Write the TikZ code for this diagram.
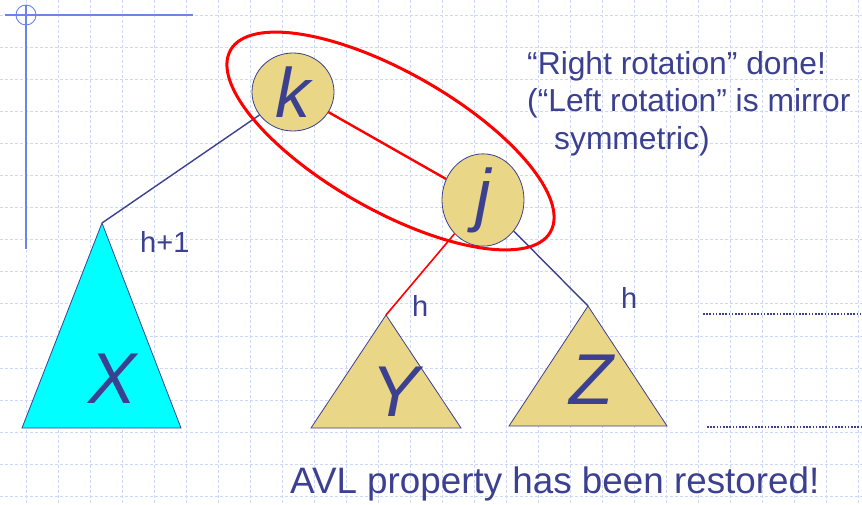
\documentclass[tikz,border=0pt]{standalone}
\usepackage{fontspec}
\setmainfont{Liberation Sans}
\usetikzlibrary{shapes.geometric}
\definecolor{ink}{RGB}{60,64,144}
\definecolor{gold}{RGB}{233,214,134}
\definecolor{gridc}{RGB}{205,216,248}
\definecolor{deco}{RGB}{106,132,232}
\definecolor{aqua}{RGB}{0,255,255}
\tikzset{
  treenode/.style={ellipse, draw=ink, line width=0.8, fill=gold, minimum width=82, minimum height=78, inner sep=0, text=ink, font=\fontsize{70}{70}\selectfont\itshape},
  subtree/.style={draw=ink, line width=0.8},
  bigletter/.style={anchor=base, text=ink, inner sep=0, font=\fontsize{72}{72}\selectfont\itshape},
  hlabel/.style={anchor=base west, text=ink, inner sep=0, font=\fontsize{29}{34}\selectfont},
  note/.style={anchor=base west, text=ink, inner sep=0, font=\fontsize{31.8}{37}\selectfont},
  edge/.style={draw=ink, line width=1.4},
  redge/.style={draw=red, line width=1.6},
  gridline/.style={draw=gridc, line width=0.9, dash pattern=on 3 off 2},
  dotline/.style={draw=ink, line width=1.6, dash pattern=on 1.6 off 1.6}
}
\begin{document}
\begin{tikzpicture}[x=1pt,y=-1pt]
\useasboundingbox[fill=white] (0,0) rectangle (862,505);
% grid
\foreach \i in {0,...,26} { \draw[gridline] ({26+32*\i},0) -- ({26+32*\i},505); }
\foreach \i in {0,...,15} { \draw[gridline] (0,{15+32.1*\i}) -- (862,{15+32.1*\i}); }
% top-left decoration
\draw[deco, line width=1.6] (26,5) -- (26,249);
\draw[deco, line width=1.2] (5,15) -- (193,15);
\draw[deco, line width=0.9] (26,15) circle (10);
% subtrees
\coordinate (Xtop) at (102,223);
\coordinate (Ytop) at (386,315);
\coordinate (Ztop) at (588,306);
\draw[subtree, fill=aqua] (Xtop) -- (181,428) -- (22,428) -- cycle;
\draw[subtree, fill=gold] (Ytop) -- (461,428) -- (311,428) -- cycle;
\draw[subtree, fill=gold] (Ztop) -- (667,426) -- (509,426) -- cycle;
\node[bigletter] (Xl) at (113,403) {X};
\node[bigletter] (Yl) at (396,416) {Y};
\node[bigletter] (Zl) at (591,404) {Z};
% tree nodes
\node[treenode] (k) at (293,92) {k\hspace{4pt}};
\node[treenode] (j) at (483,200) {\raisebox{-4pt}{j}};
% connectors
\draw[edge] (k) -- (Xtop);
\draw[redge, line width=2.4] (k) -- (j);
\draw[redge] (j) -- (Ytop);
\draw[edge] (j) -- (Ztop);
% red ellipse
\draw[red, line width=3, rotate around={-29.6:(390.5,141)}] (390.5,141) ellipse (184 and 69);
% height labels
\node[hlabel] (h1) at (140,252) {h+1};
\node[hlabel] (hy) at (412,316) {h};
\node[hlabel] (hz) at (621,308) {h};
% notes
\node[note] (n1) at (527,75) {“Right rotation” done!};
\node[note] (n2) at (527,112) {(“Left rotation” is mirror};
\node[note] (n3) at (554,150) {symmetric)};
\node[anchor=base west, text=ink, inner sep=0, font=\fontsize{36.8}{40}\selectfont] (avl) at (290,493) {AVL property has been restored!};
% dotted guide lines
\coordinate (d1a) at (703,314); \coordinate (d1b) at (862,314);
\coordinate (d2a) at (707,427); \coordinate (d2b) at (862,427);
\draw[dotline] (d1a) -- (d1b);
\draw[dotline] (d2a) -- (d2b);
\end{tikzpicture}
\end{document}
